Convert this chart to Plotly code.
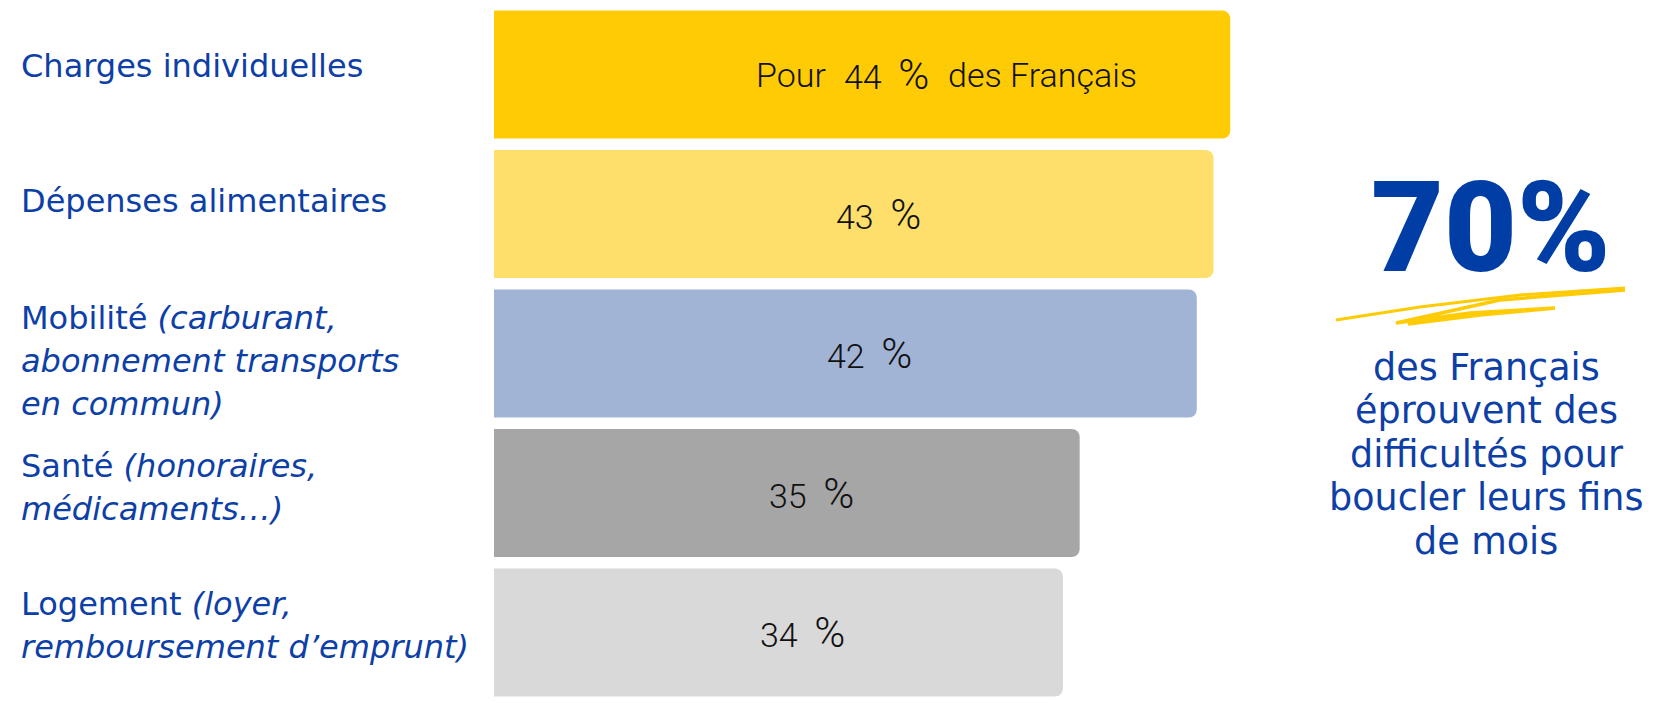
import plotly.graph_objects as go

# ---------------- data ----------------
categories = ["Charges individuelles", "Dépenses alimentaires", "Mobilité", "Santé", "Logement"]
details = [
    [],
    [],
    ["(carburant,", "abonnement transports", "en commun)"],
    ["(honoraires,", "médicaments…)"],
    ["(loyer,", "remboursement d’emprunt)"],
]
values = [44, 43, 42, 35, 34]
prefixes = ["Pour", "", "", "", ""]
suffixes = ["des Français", "", "", "", ""]
headline_value = "70%"
headline_lines = ["des Français", "éprouvent des", "difficultés pour", "boucler leurs fins", "de mois"]

# ---------------- style / layout ----------------
bar_colors = ["#FFCB05", "#FFDF6B", "#A2B4D6", "#A6A6A6", "#D9D9D9"]
label_blue = "#0D3FA6"
big_blue = "#003DA5"
label_offsets = [-9, -13, 7, -6, -7]   # px offset of label block vs bar centre
LINE_H = 43

OFF = 8                      # page body margin in the browser
WIDTH, HEIGHT = 1670 - OFF, 703 - OFF
L, R, T, B = 486, 341, 0, 2
W = WIDTH - L - R
H = HEIGHT - T - B


def px(xs):
    """screen x -> paper x"""
    return (xs - OFF - L) / W


def py(ys):
    """screen y -> paper y"""
    return 1 - (ys - OFF - T) / H


fig = go.Figure()
fig.add_trace(go.Bar(
    x=values,
    y=categories,
    orientation="h",
    marker=dict(color=bar_colors, line=dict(width=0), cornerradius=8),
    hoverinfo="skip",
))

annotations = []

label_font = dict(family="DejaVu Sans", size=32, color=label_blue)
for cat, det, off in zip(categories, details, label_offsets):
    lines = [cat + (" <i>" + det[0] + "</i>" if det else "")]
    lines += ["<i>" + d + "</i>" for d in det[1:]]
    n = len(lines)
    for i, ln in enumerate(lines):
        shift = off + (i - (n - 1) / 2) * LINE_H
        annotations.append(dict(
            x=px(19), xref="paper", xanchor="left",
            y=cat, yref="y", yanchor="middle", yshift=-shift,
            text=ln, showarrow=False, align="left", font=label_font,
        ))

val_font = dict(family="Roboto", size=34, color="#111111", weight=300)
for cat, v, pre, suf in zip(categories, values, prefixes, suffixes):
    xc = v / 2 + 1.45
    annotations.append(dict(x=xc, y=cat, xref="x", yref="y",
                            text=f"{v}&nbsp; <span style='font-size:42px'>%</span>",
                            showarrow=False, font=val_font, xanchor="center", yanchor="middle"))
    if pre:
        annotations.append(dict(x=xc, y=cat, xref="x", yref="y", text=pre, xshift=-58,
                                showarrow=False, font=val_font, xanchor="right", yanchor="middle"))
    if suf:
        annotations.append(dict(x=xc, y=cat, xref="x", yref="y", text=suf, xshift=60,
                                showarrow=False, font=val_font, xanchor="left", yanchor="middle"))

annotations.append(dict(
    x=px(1491), y=py(228), xref="paper", yref="paper", xanchor="center", yanchor="middle",
    text=headline_value, showarrow=False,
    font=dict(family="Roboto", size=126, color=big_blue, weight=900),
))
for i, ln in enumerate(headline_lines):
    annotations.append(dict(
        x=px(1486), y=py(367 + i * 43.5), xref="paper", yref="paper",
        xanchor="center", yanchor="middle", text=ln, showarrow=False,
        font=dict(family="DejaVu Sans", size=36.5, color=label_blue),
    ))


def path_from(points):
    return "M " + " L ".join(f"{px(a):.5f},{py(b):.5f}" for a, b in points)


shapes = [
    dict(type="path", xref="paper", yref="paper",
         path=path_from([(1336, 320), (1420, 307), (1520, 295), (1625, 288)]),
         line=dict(color="#FFCB05", width=3)),
    dict(type="path", xref="paper", yref="paper",
         path=path_from([(1625, 290), (1500, 300), (1396, 323), (1470, 313), (1555, 308),
                         (1480, 315), (1408, 324)]),
         line=dict(color="#FFCB05", width=3.5)),
]

fig.update_layout(
    width=WIDTH, height=HEIGHT,
    margin=dict(l=L, r=R, t=T, b=B),
    paper_bgcolor="white", plot_bgcolor="white",
    bargap=0.0824,
    showlegend=False,
    xaxis=dict(range=[0, 49.9], visible=False, fixedrange=True),
    yaxis=dict(type="category", categoryorder="array", categoryarray=categories,
               range=[4.491, -0.477], visible=False, fixedrange=True),
    annotations=annotations,
    shapes=shapes,
)

fig.write_html("out.html")
